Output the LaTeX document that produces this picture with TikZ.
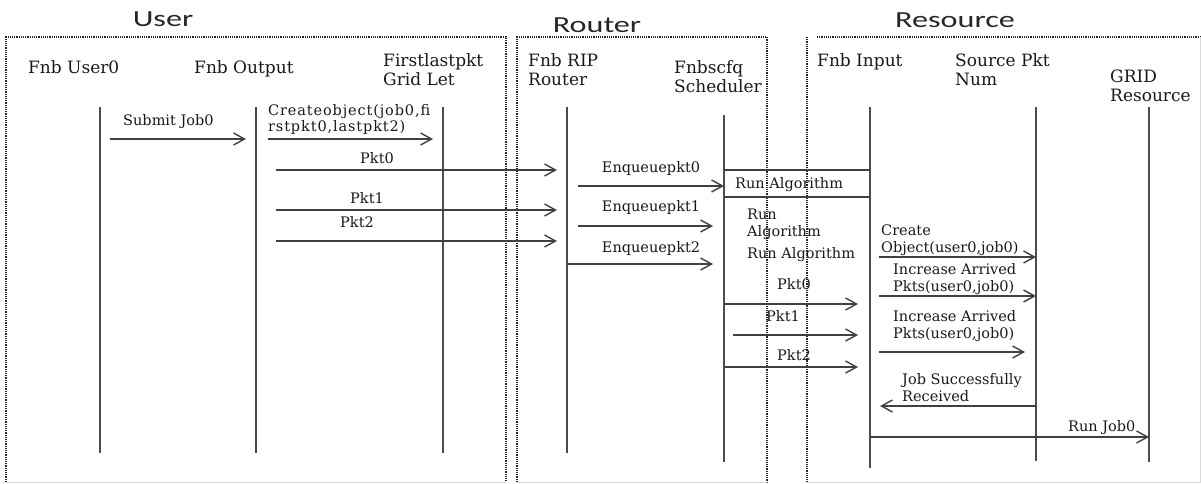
\documentclass[tikz,border=0pt]{standalone}
\usepackage{fontspec}
\setmainfont{DejaVu Serif}
\newfontfamily\titlefont[FakeStretch=1.4]{Carlito}
\usetikzlibrary{arrows.meta}
\begin{document}
\begin{tikzpicture}[x=1pt,y=-1pt,
  box/.style={draw=black!85, line width=1.1pt, dash pattern=on 1.2pt off 1pt},
  faint/.style={draw=black!15, line width=0.8pt},
  life/.style={draw=black!70, line width=2pt},
  msg/.style={draw=black!75, line width=1.4pt, -{Straight Barb[length=11pt,width=12pt,line width=1.4pt]}},
  hline/.style={draw=black!75, line width=1.4pt},
  ttl/.style={font=\titlefont\fontsize{23}{26}\selectfont, inner sep=0pt, text=black!85},
  lhead/.style={font=\fontsize{17}{19}\selectfont, inner sep=0pt, align=left, anchor=base west, text=black!90},
  lbl/.style={font=\fontsize{14.5}{17}\selectfont, inner sep=0pt, align=left, anchor=base west, text=black!90},
]
\useasboundingbox (0,0) rectangle (1201,483);

% group boxes
\draw[box] (6,482) -- (6,37) -- (506,37) -- (506,482);
\draw[box] (517,482) -- (517,37) -- (767,37) -- (767,482);
\draw[box] (807,37) -- (807,482);
\draw[box] (817,37) -- (1200,37);
\draw[faint] (6,482) -- (506,482) (517,482) -- (767,482) (807,482) -- (1200,482) -- (1200,37);

% titles
\node[ttl] (tUser) at (163,19) {User};
\node[ttl] (tRouter) at (597,25) {Router};
\node[ttl] (tRes) at (955,20) {Resource};

% lifeline heads (base = last line)
\node[lhead] (hU0) at (28,73) {Fnb User0};
\node[lhead] (hOut) at (194,73) {Fnb Output};
\node[lhead] (hFL) at (383,85) {Firstlastpkt\\Grid Let};
\node[lhead] (hRIP) at (528,85) {Fnb RIP\\Router};
\node[lhead] (hSch) at (674,92) {Fnbscfq\\Scheduler};
\node[lhead] (hInp) at (817,66) {Fnb Input};
\node[lhead] (hSrc) at (955,85) {Source Pkt\\Num};
\node[lhead] (hGrid) at (1110,101) {GRID\\Resource};

% lifelines
\coordinate (u0T) at (100,107);  \coordinate (u0B) at (100,453);
\coordinate (outT) at (256,107); \coordinate (outB) at (256,453);
\coordinate (flT) at (443,107);  \coordinate (flB) at (443,453);
\coordinate (ripT) at (567,107); \coordinate (ripB) at (567,453);
\coordinate (schT) at (724,115); \coordinate (schB) at (724,462);
\coordinate (inpT) at (870,107); \coordinate (inpB) at (870,468);
\coordinate (srcT) at (1036,107); \coordinate (srcB) at (1036,461);
\coordinate (grT) at (1149,107); \coordinate (grB) at (1149,462);
\foreach \a in {u0,out,fl,rip,sch,inp,src,gr} {\draw[life] (\a T) -- (\a B);}

% message labels
\node[lbl] (lSub) at (123,125) {Submit Job0};
\node[lbl,font=\addfontfeatures{LetterSpace=6}\fontsize{14.5}{16}\selectfont] (lCre) at (268,131) {Createobject(job0,fi\\rstpkt0,lastpkt2)};
\node[lbl,anchor=base] (lP0) at (377,163) {Pkt0};
\node[lbl,anchor=base] (lP1) at (367,203) {Pkt1};
\node[lbl,anchor=base] (lP2) at (357,227) {Pkt2};
\node[lbl,anchor=base] (lE0) at (651,172) {Enqueuepkt0};
\node[lbl,anchor=base] (lE1) at (651,211) {Enqueuepkt1};
\node[lbl,anchor=base] (lE2) at (651,252) {Enqueuepkt2};
\node[lbl] (lRA) at (735,188) {Run Algorithm};
\node[lbl] (lRA2) at (747,236) {Run\\Algorithm};
\node[lbl] (lRA3) at (747,258) {Run Algorithm};
\node[lbl,anchor=base] (lQ0) at (794,289) {Pkt0};
\node[lbl,anchor=base] (lQ1) at (783,321) {Pkt1};
\node[lbl,anchor=base] (lQ2) at (794,360) {Pkt2};
\node[lbl] (lCO) at (881,252) {Create\\Object(user0,job0)};
\node[lbl] (lIA1) at (893,291) {Increase Arrived\\Pkts(user0,job0)};
\node[lbl] (lIA2) at (893,338) {Increase Arrived\\Pkts(user0,job0)};
\node[lbl] (lJS) at (902,401) {Job Successfully\\Received};
\node[lbl] (lRJ) at (1068,431) {Run Job0};

% message arrows
\coordinate (m1s) at (110,139); \coordinate (m1e) at (246,139);
\draw[msg] (m1s) -- (m1e);
\coordinate (m2s) at (268,139); \coordinate (m2e) at (433,139);
\draw[msg] (m2s) -- (m2e);
\coordinate (m3s) at (276,170); \coordinate (m3e) at (557,170);
\draw[msg] (m3s) -- (m3e);
\coordinate (m4s) at (276,210); \coordinate (m4e) at (557,210);
\draw[msg] (m4s) -- (m4e);
\coordinate (m5s) at (276,241); \coordinate (m5e) at (557,241);
\draw[msg] (m5s) -- (m5e);
\coordinate (m6s) at (578,186);
\draw[msg] (m6s) -- (schT |- m6s);
\coordinate (m7s) at (578,226); \coordinate (m7e) at (713,226);
\draw[msg] (m7s) -- (m7e);
\coordinate (m8e) at (713,264);
\draw[msg] (ripT |- m8e) -- (m8e);
% run algorithm box
\coordinate (ra1) at (724,170); \coordinate (ra2) at (724,197);
\draw[hline] (ra1) -- (inpT |- ra1);
\draw[hline] (ra2) -- (inpT |- ra2);
\coordinate (q0e) at (858,304);
\draw[msg] (schT |- q0e) -- (q0e);
\coordinate (q1s) at (733,335); \coordinate (q1e) at (858,335);
\draw[msg] (q1s) -- (q1e);
\coordinate (q2e) at (858,367);
\draw[msg] (schT |- q2e) -- (q2e);
\coordinate (c1s) at (879,257);
\draw[msg] (c1s) -- (srcT |- c1s);
\coordinate (c2s) at (879,296);
\draw[msg] (c2s) -- (srcT |- c2s);
\coordinate (c3s) at (879,352); \coordinate (c3e) at (1025,352);
\draw[msg] (c3s) -- (c3e);
\coordinate (jse) at (880,406);
\draw[msg] (srcT |- jse) -- (jse);
\coordinate (rj) at (870,437);
\draw[msg] (inpT |- rj) -- (grT |- rj);
\end{tikzpicture}
\end{document}
